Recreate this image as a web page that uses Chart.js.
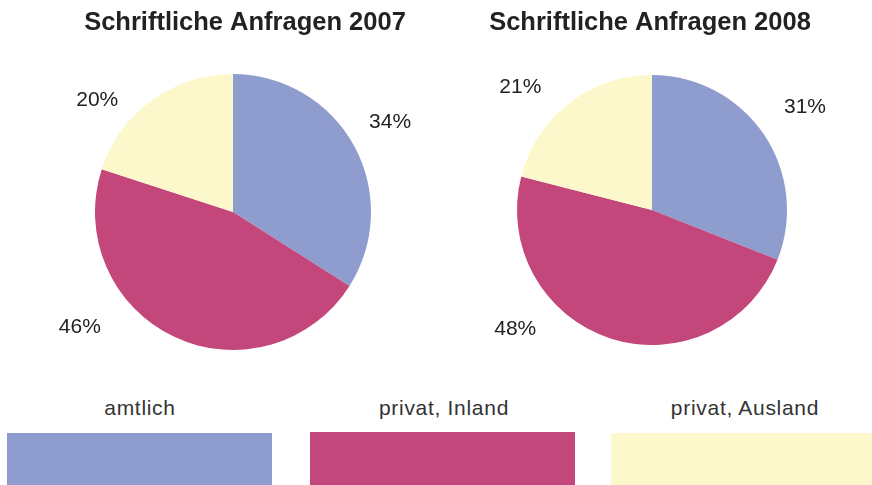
<!DOCTYPE html>
<html><head><meta charset="utf-8">
<script src="https://cdn.jsdelivr.net/npm/chart.js@4.4.0/dist/chart.umd.min.js"></script>
<style>
html,body{margin:0;padding:0;background:#fff;}
body{width:872px;height:485px;position:relative;overflow:hidden;font-family:"Liberation Sans",Arial,sans-serif;}
.cv{position:absolute;top:0;}
.leg{position:absolute;}
.lab{position:absolute;font-size:21px;letter-spacing:0.7px;color:#333;text-align:center;line-height:24px;}
</style></head><body>
<div class="cv" style="left:0;width:436px;height:380px;"><canvas id="c1"></canvas></div>
<div class="cv" style="left:436px;width:436px;height:380px;"><canvas id="c2"></canvas></div>
<div id="legend"></div>
<script>
const categories = ["amtlich", "privat, Inland", "privat, Ausland"];
const values2007 = [34, 46, 20];
const values2008 = [31, 48, 21];
const titles = ["Schriftliche Anfragen 2007", "Schriftliche Anfragen 2008"];
const colors = ["#8F9CCE", "#C4477C", "#FDF8CC"];

const labelPlugin = {
  id: 'pieLabels',
  afterDraw(chart, args, opts) {
    const ctx = chart.ctx;
    const meta = chart.getDatasetMeta(0);
    const ds = chart.data.datasets[0].data;
    const total = ds.reduce((a, b) => a + b, 0);
    ctx.save();
    ctx.fillStyle = '#222';
    ctx.font = '21px "Liberation Sans", Arial, sans-serif';
    ctx.textAlign = 'center';
    ctx.textBaseline = 'middle';
    meta.data.forEach((arc, i) => {
      const p = arc.getProps(['x', 'y', 'startAngle', 'endAngle', 'outerRadius'], true);
      const ang = p.startAngle + (p.endAngle - p.startAngle) * opts.frac[i];
      const rr = p.outerRadius * opts.dist[i];
      const x = p.x + Math.cos(ang) * rr;
      const y = p.y + Math.sin(ang) * rr;
      ctx.fillText(Math.round(ds[i] / total * 100) + '%', x, y + 1);
    });
    ctx.font = 'bold 25.5px "Liberation Sans", Arial, sans-serif';
    ctx.fillStyle = '#222';
    ctx.fillText(opts.text, opts.titleX, 23);
    ctx.restore();
  }
};

function makePie(id, data, title, titleX, pad, frac, dist) {
  return new Chart(document.getElementById(id), {
    type: 'pie',
    data: { labels: categories, datasets: [{ data: data, backgroundColor: colors, borderWidth: 0 }] },
    options: {
      responsive: true, maintainAspectRatio: false, animation: false,
      layout: { padding: pad },
      plugins: { legend: { display: false }, tooltip: { enabled: false }, title: { display: false },
                 pieLabels: { text: title, titleX: titleX, frac: frac, dist: dist } }
    },
    plugins: [labelPlugin]
  });
}
makePie('c1', values2007, titles[0], 245, { left: 95, right: 65, top: 74, bottom: 30 }, [0.49, 0.67, 0.30], [1.315, 1.383, 1.277]);
makePie('c2', values2008, titles[1], 214, { left: 81, right: 85, top: 75, bottom: 35 }, [0.50, 0.68, 0.38], [1.37, 1.34, 1.336]);

const legBoxes = [[7, 433, 265, 52], [310, 432, 265, 53], [611, 433, 261, 52]];
const legLabelX = [140, 444, 745];
const leg = document.getElementById('legend');
categories.forEach((c, i) => {
  const b = document.createElement('div');
  b.className = 'leg';
  const [x, y, w, h] = legBoxes[i];
  b.style.cssText = `left:${x}px;top:${y}px;width:${w}px;height:${h}px;background:${colors[i]};`;
  leg.appendChild(b);
  const l = document.createElement('div');
  l.className = 'lab';
  l.style.cssText = `left:${legLabelX[i] - 120}px;width:240px;top:396px;`;
  l.textContent = c;
  leg.appendChild(l);
});
</script>
</body></html>
